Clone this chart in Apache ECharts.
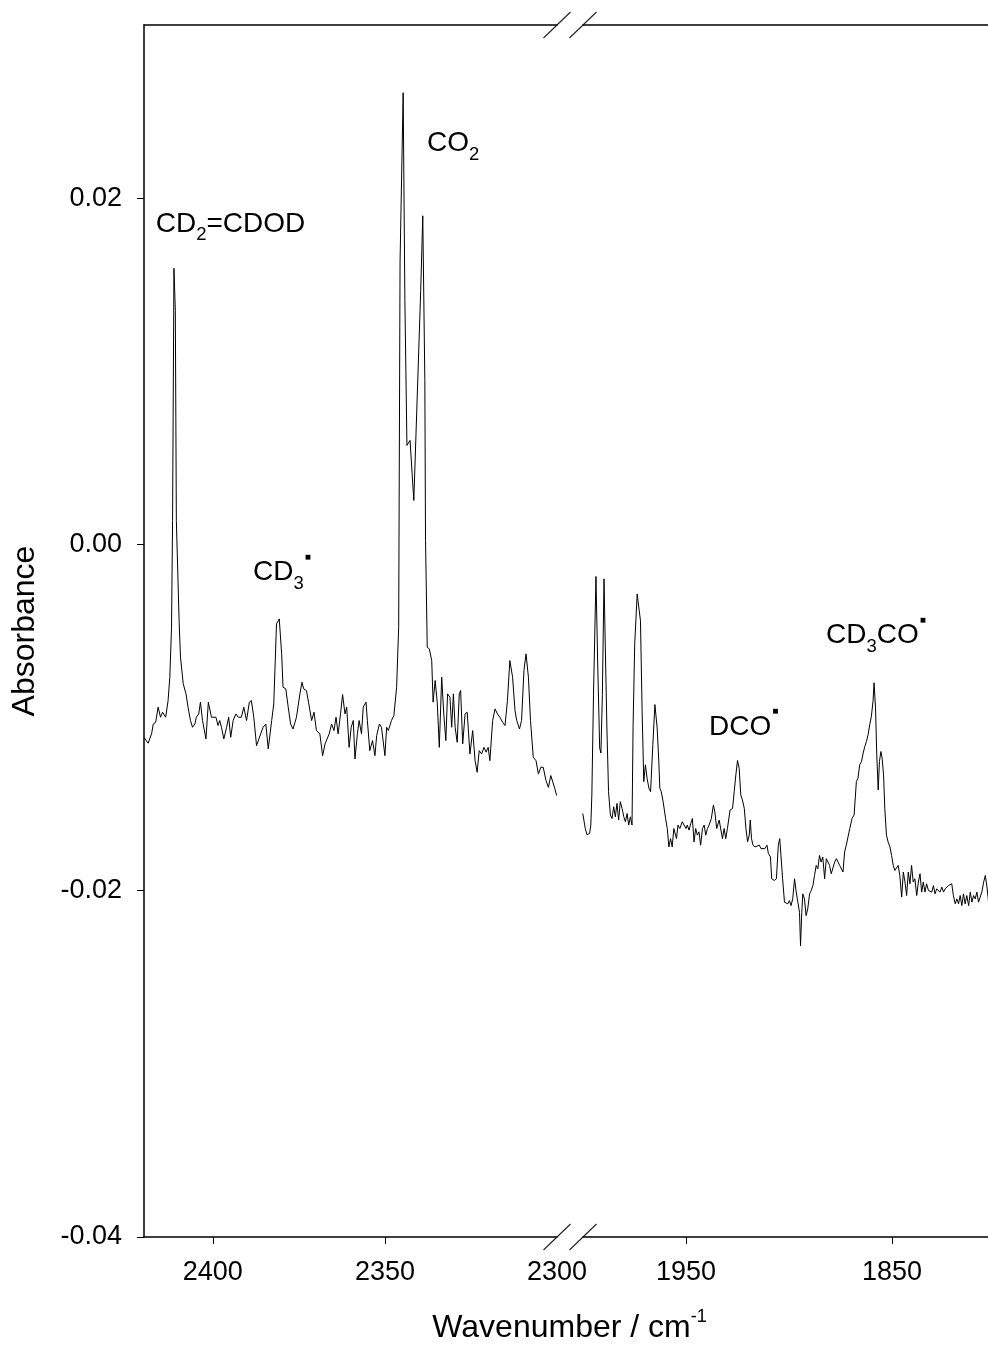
<!DOCTYPE html>
<html>
<head>
<meta charset="utf-8">
<script src="https://cdn.jsdelivr.net/npm/echarts@6/dist/echarts.min.js"></script>
<style>
  html, body { margin: 0; padding: 0; background: #fff; }
  #chart { width: 988px; height: 1345px; }
</style>
</head>
<body>
<div id="chart"></div>
<script>
// IR difference spectrum, two wavenumber windows joined by an axis break.

// High-wavenumber window (cm-1) and absorbance
const wavenumberHigh = [
  2420.0, 2418.8, 2417.8, 2417.3, 2416.6, 2415.9, 2415.2, 2414.6, 2413.7, 2413.0,
  2412.5, 2412.0, 2411.7, 2411.3, 2410.9, 2410.6, 2409.8, 2409.4, 2408.6, 2407.8,
  2407.2, 2406.5, 2405.9, 2405.2, 2404.8, 2404.1, 2403.6, 2403.0, 2402.0, 2401.3,
  2400.4, 2399.9, 2399.1, 2398.5, 2398.0, 2397.5, 2396.8, 2396.0, 2395.4, 2394.8,
  2394.1, 2393.3, 2392.6, 2391.7, 2391.0, 2390.2, 2389.4, 2388.8, 2388.1, 2387.3,
  2386.1, 2385.4, 2384.6, 2383.9, 2382.9, 2382.3, 2381.5, 2380.7, 2380.0, 2379.6,
  2378.8, 2378.1, 2377.4, 2376.7, 2375.7, 2374.7, 2374.1, 2373.6, 2372.8, 2372.2,
  2371.3, 2370.6, 2369.9, 2368.9, 2368.1, 2367.4, 2366.9, 2366.2, 2365.5, 2364.8,
  2364.2, 2363.6, 2362.9, 2362.3, 2361.6, 2361.1, 2360.4, 2359.8, 2359.2, 2358.7,
  2358.0, 2357.5, 2356.8, 2356.3, 2355.5, 2355.1, 2354.4, 2353.6, 2352.9, 2352.4,
  2351.6, 2351.0, 2350.0, 2349.5, 2349.0, 2348.1, 2347.4, 2346.6, 2346.0, 2345.6,
  2344.7, 2344.2, 2343.6, 2342.7, 2341.6, 2339.6, 2339.0, 2338.4, 2338.2, 2337.7,
  2337.1, 2336.4, 2336.0, 2335.4, 2334.8, 2334.2, 2333.5, 2332.9, 2332.3, 2331.8,
  2331.1, 2330.6, 2330.1, 2329.6, 2329.0, 2328.4, 2328.0, 2327.4, 2326.7, 2326.1,
  2325.3, 2324.5, 2323.8, 2323.2, 2322.6, 2321.9, 2321.2, 2320.6, 2320.0, 2319.5,
  2318.7, 2318.0, 2317.3, 2316.6, 2315.8, 2315.1, 2314.4, 2313.7, 2312.9, 2312.2,
  2311.7, 2310.9, 2310.3, 2309.6, 2309.0, 2308.3, 2307.7, 2306.9, 2306.1, 2305.4,
  2304.7, 2304.0, 2303.2, 2302.5, 2301.8, 2301.3, 2300.6, 2300.1
];
const absorbanceHigh = [
  -0.01114, -0.01148, -0.01094, -0.01037, -0.01027, -0.00940, -0.00998, -0.00969, -0.00998, -0.00902,
  -0.00767, -0.00478, 0.00139, 0.01595, 0.01353, 0.00139, -0.00439, -0.00651, -0.00805, -0.00863,
  -0.00940, -0.01017, -0.01056, -0.01037, -0.00998, -0.00979, -0.00911, -0.01017, -0.01123, -0.00911,
  -0.00998, -0.00988, -0.00998, -0.01046, -0.01017, -0.01056, -0.01123, -0.01056, -0.00998, -0.01114,
  -0.01017, -0.00979, -0.00998, -0.00998, -0.00940, -0.01017, -0.00911, -0.00902, -0.00998, -0.01162,
  -0.01094, -0.01056, -0.01037, -0.01181, -0.01017, -0.00921, -0.00459, -0.00430, -0.00632, -0.00825,
  -0.00834, -0.00940, -0.01037, -0.01066, -0.00998, -0.00863, -0.00796, -0.00834, -0.00844, -0.00911,
  -0.01017, -0.00969, -0.01075, -0.01094, -0.01220, -0.01152, -0.01143, -0.01094, -0.01037, -0.01075,
  -0.00998, -0.01094, -0.00979, -0.00867, -0.00979, -0.00940, -0.01172, -0.01056, -0.01017, -0.01239,
  -0.01094, -0.01017, -0.01094, -0.00940, -0.00911, -0.01017, -0.01191, -0.01133, -0.01220, -0.01104,
  -0.01037, -0.01056, -0.01220, -0.01056, -0.01075, -0.01017, -0.00988, -0.00825, -0.00478, 0.01632,
  0.02609, 0.01410, 0.00572, 0.00601, 0.00254, 0.01468, 0.01898, 0.00948, 0.00023, -0.00594,
  -0.00603, -0.00671, -0.00911, -0.00786, -0.00911, -0.01172, -0.00767, -0.00979, -0.01133, -0.00863,
  -0.00883, -0.01056, -0.00863, -0.01056, -0.01143, -0.00863, -0.00844, -0.01152, -0.00979, -0.00969,
  -0.01210, -0.01075, -0.01249, -0.01316, -0.01191, -0.01210, -0.01172, -0.01200, -0.01172, -0.01249,
  -0.01017, -0.00950, -0.00979, -0.00998, -0.01027, -0.01046, -0.00902, -0.00671, -0.00767, -0.00960,
  -0.01017, -0.01066, -0.01017, -0.00728, -0.00632, -0.00767, -0.01017, -0.01229, -0.01249, -0.01326,
  -0.01287, -0.01287, -0.01364, -0.01403, -0.01335, -0.01326, -0.01412, -0.01451
];

// Low-wavenumber window (cm-1) and absorbance
const wavenumberLow = [
  2000.1, 1998.9, 1998.1, 1996.8, 1996.2, 1995.7, 1994.9, 1993.7, 1992.9, 1991.9,
  1991.3, 1990.6, 1989.8, 1989.2, 1988.4, 1987.6, 1986.7, 1985.9, 1985.1, 1984.3,
  1983.5, 1982.7, 1981.9, 1981.0, 1980.2, 1979.4, 1978.6, 1977.8, 1977.0, 1976.2,
  1975.7, 1974.9, 1973.7, 1973.1, 1972.1, 1971.3, 1970.5, 1969.7, 1968.9, 1968.0,
  1967.2, 1966.1, 1965.1, 1964.0, 1963.2, 1962.7, 1962.0, 1961.1, 1959.9, 1959.1,
  1958.3, 1957.5, 1956.7, 1955.9, 1954.6, 1953.9, 1953.0, 1951.8, 1951.0, 1950.0,
  1949.4, 1948.5, 1947.7, 1946.9, 1946.1, 1945.3, 1944.5, 1943.7, 1942.9, 1942.0,
  1941.2, 1940.4, 1939.6, 1938.8, 1937.7, 1936.7, 1936.0, 1935.1, 1933.9, 1933.1,
  1932.3, 1931.5, 1930.7, 1929.9, 1928.6, 1927.4, 1926.6, 1925.8, 1925.0, 1924.2,
  1923.4, 1922.6, 1921.7, 1920.9, 1920.1, 1919.3, 1918.8, 1918.2, 1917.5, 1916.5,
  1915.6, 1914.4, 1913.6, 1912.8, 1911.7, 1910.7, 1910.0, 1909.0, 1908.4, 1907.1,
  1906.1, 1905.2, 1904.5, 1903.9, 1903.1, 1902.2, 1901.4, 1900.6, 1899.8, 1899.0,
  1898.2, 1897.3, 1896.5, 1895.7, 1894.9, 1894.4, 1893.8, 1893.3, 1892.5, 1891.7,
  1890.9, 1890.0, 1889.2, 1888.4, 1887.6, 1886.8, 1886.0, 1885.2, 1884.4, 1883.6,
  1882.7, 1881.9, 1881.1, 1880.3, 1879.5, 1878.7, 1877.8, 1877.0, 1876.2, 1875.4,
  1874.6, 1873.8, 1873.0, 1872.2, 1871.3, 1870.5, 1869.4, 1868.4, 1867.3, 1866.5,
  1865.7, 1864.8, 1864.0, 1863.2, 1862.4, 1861.6, 1860.8, 1860.0, 1859.2, 1858.7,
  1858.0, 1857.4, 1856.7, 1856.1, 1855.4, 1854.8, 1854.1, 1853.5, 1852.7, 1851.9,
  1851.0, 1850.2, 1849.4, 1848.6, 1847.8, 1847.0, 1846.2, 1845.3, 1844.5, 1843.7,
  1842.9, 1842.1, 1841.3, 1840.5, 1839.7, 1838.9, 1838.0, 1837.2, 1836.4, 1835.6,
  1834.8, 1834.0, 1833.2, 1832.3, 1831.5, 1830.7, 1829.9, 1829.1, 1828.3, 1827.5,
  1826.7, 1825.8, 1825.0, 1824.2, 1823.4, 1822.6, 1821.8, 1821.0, 1820.2, 1819.3,
  1818.5, 1817.7, 1816.9, 1816.1, 1815.3, 1814.5, 1813.7, 1812.8, 1812.0, 1811.2,
  1810.4, 1809.6, 1808.8, 1808.0, 1807.2, 1806.4, 1805.5, 1804.7, 1803.9, 1803.1
];
const absorbanceLow = [
  -0.01554, -0.01641, -0.01676, -0.01670, -0.01621, -0.01447, -0.00867, -0.00185, -0.00673, -0.01176,
  -0.01205, -0.00867, -0.00199, -0.00576, -0.01060, -0.01428, -0.01563, -0.01583, -0.01515, -0.01573,
  -0.01496, -0.01592, -0.01486, -0.01525, -0.01573, -0.01602, -0.01554, -0.01621, -0.01573, -0.01621,
  -0.01060, -0.00576, -0.00286, -0.00282, -0.00441, -0.00963, -0.01370, -0.01273, -0.01350, -0.01408,
  -0.01428, -0.01157, -0.00925, -0.01060, -0.01254, -0.01408, -0.01428, -0.01486, -0.01583, -0.01641,
  -0.01747, -0.01699, -0.01747, -0.01641, -0.01699, -0.01621, -0.01641, -0.01602, -0.01592, -0.01641,
  -0.01621, -0.01650, -0.01612, -0.01583, -0.01718, -0.01641, -0.01679, -0.01660, -0.01737, -0.01641,
  -0.01621, -0.01679, -0.01641, -0.01621, -0.01583, -0.01505, -0.01544, -0.01641, -0.01592, -0.01583,
  -0.01699, -0.01641, -0.01699, -0.01641, -0.01534, -0.01525, -0.01428, -0.01331, -0.01248, -0.01292,
  -0.01447, -0.01476, -0.01525, -0.01641, -0.01718, -0.01679, -0.01592, -0.01699, -0.01737, -0.01747,
  -0.01747, -0.01737, -0.01757, -0.01747, -0.01757, -0.01737, -0.01786, -0.01805, -0.01931, -0.01941,
  -0.01931, -0.01737, -0.01699, -0.01796, -0.01931, -0.02066, -0.02066, -0.02076, -0.02057, -0.02086,
  -0.02047, -0.01931, -0.02008, -0.02066, -0.02125, -0.02318, -0.02125, -0.02018, -0.02047, -0.02144,
  -0.02105, -0.02018, -0.01999, -0.01970, -0.01912, -0.01854, -0.01873, -0.01796, -0.01834, -0.01805,
  -0.01931, -0.01815, -0.01834, -0.01854, -0.01902, -0.01912, -0.01834, -0.01815, -0.01834, -0.01854,
  -0.01844, -0.01892, -0.01776, -0.01737, -0.01728, -0.01641, -0.01583, -0.01563, -0.01370, -0.01350,
  -0.01273, -0.01254, -0.01205, -0.01167, -0.01138, -0.01099, -0.01041, -0.00992, -0.00905, -0.00799,
  -0.00944, -0.01215, -0.01418, -0.01254, -0.01196, -0.01234, -0.01331, -0.01525, -0.01679, -0.01718,
  -0.01747, -0.01796, -0.01854, -0.01883, -0.01873, -0.01854, -0.01912, -0.02037, -0.01892, -0.01950,
  -0.02028, -0.01892, -0.01960, -0.01854, -0.01950, -0.01931, -0.02028, -0.01950, -0.01902, -0.02008,
  -0.01950, -0.02008, -0.01960, -0.01999, -0.01989, -0.02008, -0.01970, -0.02018, -0.01989, -0.01979,
  -0.02008, -0.01979, -0.02008, -0.01989, -0.01979, -0.01970, -0.01979, -0.01960, -0.02028, -0.02076,
  -0.02047, -0.02076, -0.02028, -0.02086, -0.02018, -0.02076, -0.02028, -0.02086, -0.02008, -0.02066,
  -0.02028, -0.02047, -0.02008, -0.02066, -0.02037, -0.02008, -0.01950, -0.01912, -0.01979, -0.02066
];

// Axis ticks
const yTickValues = [-0.04, -0.02, 0.00, 0.02];
const xTickLabelsHigh = [2400, 2350, 2300];
const xTickMarksHigh = [2400, 2350];
const xTickLabelsLow = [1950, 1850];

// Band assignments: rich-text label, anchor (left edge, text centre) and window
const bandLabels = [
  '{m|CD}{s|2}{m|=CDOD}',
  '{m|CO}{s|2}',
  '{m|CD}{s|3}{d|■}',
  '{m|DCO}{d|■}',
  '{m|CD}{s|3}{m|CO}{d|■}'
];
const bandLabelWavenumber = [2416.6, 2337.8, 2388.3, 1938.8, 1882.0];
const bandLabelAbsorbance = [0.0185, 0.02315, -0.00162, -0.01055, -0.00526];
const bandLabelWindow = [0, 0, 0, 1, 1];

const FONT = "'Liberation Sans', Arial, Helvetica, sans-serif";

const pairs = (xs, ys) => xs.map((x, i) => [x, ys[i]]);

function bandSeries(win) {
  const data = [];
  bandLabels.forEach((t, i) => {
    if (bandLabelWindow[i] === win) {
      data.push({ value: [bandLabelWavenumber[i], bandLabelAbsorbance[i]], label: { formatter: t } });
    }
  });
  return {
    type: 'scatter',
    xAxisIndex: win, yAxisIndex: win,
    symbol: 'rect',
    symbolSize: 0,
    itemStyle: { color: '#000', opacity: 1 },
    silent: true,
    z: 5,
    label: {
      show: true,
      position: 'right',
      distance: 0,
      color: '#000',
      opacity: 1,
      textBorderWidth: 0,
      rich: {
        m: { fontFamily: FONT, fontSize: 28, lineHeight: 41, color: '#000', verticalAlign: 'middle' },
        s: { fontFamily: FONT, fontSize: 18.5, lineHeight: 18, color: '#000', verticalAlign: 'bottom' },
        d: { fontFamily: FONT, fontSize: 10, lineHeight: 40, color: '#000', verticalAlign: 'top', padding: [0, 0, 0, 1] }
      }
    },
    data
  };
}

const axisLineStyle = { color: '#000', width: 1.5 };
const tickLabelStyle = { fontFamily: FONT, fontSize: 27, color: '#000' };

const bottomX = (gridIndex, min, max, labels, ticks) => ({
  type: 'value', gridIndex, position: 'bottom', inverse: true,
  min, max, interval: 50,
  axisLine: { show: true, onZero: false, lineStyle: axisLineStyle },
  axisTick: { show: true, inside: false, length: 7, customValues: ticks, lineStyle: { color: '#000', width: 1 } },
  axisLabel: { show: true, margin: 22, customValues: labels, formatter: v => String(v), ...tickLabelStyle },
  splitLine: { show: false }
});
const topX = (gridIndex, min, max) => ({
  type: 'value', gridIndex, position: 'top', inverse: true, min, max,
  axisLine: { show: true, onZero: false, lineStyle: axisLineStyle },
  axisTick: { show: false }, axisLabel: { show: false }, splitLine: { show: false }
});

const chart = echarts.init(document.getElementById('chart'), null, { renderer: 'canvas' });

chart.setOption({
  animation: false,
  backgroundColor: '#fff',
  grid: [
    { left: 144, top: 25, width: 413, height: 1212, outerBoundsMode: 'none' },
    { left: 583, top: 25, width: 412, height: 1212, outerBoundsMode: 'none' }
  ],
  xAxis: [
    bottomX(0, 2300, 2420, xTickLabelsHigh, xTickMarksHigh),
    bottomX(1, 1800, 2000, xTickLabelsLow, xTickLabelsLow),
    topX(0, 2300, 2420),
    topX(1, 1800, 2000)
  ],
  yAxis: [
    {
      type: 'value', gridIndex: 0, min: -0.04, max: 0.03, interval: 0.02,
      axisLine: { show: true, onZero: false, lineStyle: axisLineStyle },
      axisTick: { show: true, length: 7, customValues: yTickValues, lineStyle: { color: '#000', width: 1 } },
      axisLabel: { margin: 22, customValues: yTickValues, formatter: v => v.toFixed(2), ...tickLabelStyle },
      splitLine: { show: false }
    },
    { type: 'value', gridIndex: 1, min: -0.04, max: 0.03, interval: 0.02, show: false }
  ],
  series: [
    {
      type: 'line', xAxisIndex: 0, yAxisIndex: 0, data: pairs(wavenumberHigh, absorbanceHigh),
      showSymbol: false, symbol: 'none', silent: true,
      lineStyle: { color: '#000', width: 1 }
    },
    {
      type: 'line', xAxisIndex: 1, yAxisIndex: 1, data: pairs(wavenumberLow, absorbanceLow),
      showSymbol: false, symbol: 'none', silent: true,
      lineStyle: { color: '#000', width: 1 }
    },
    bandSeries(0),
    bandSeries(1)
  ]
});

// Axis break marks and axis titles, placed from the axes' own pixel mapping
const breakLeft = chart.convertToPixel({ xAxisIndex: 0 }, 2300);
const breakRight = chart.convertToPixel({ xAxisIndex: 1 }, 2000);
const plotLeft = chart.convertToPixel({ xAxisIndex: 0 }, 2420);
const plotRight = chart.convertToPixel({ xAxisIndex: 1 }, 1800);
const plotTop = chart.convertToPixel({ yAxisIndex: 0 }, 0.03);
const plotBottom = chart.convertToPixel({ yAxisIndex: 0 }, -0.04);

const slash = (cx, cy) => ({
  type: 'line', silent: true,
  shape: { x1: cx - 13.5, y1: cy + 13, x2: cx + 13.5, y2: cy - 13 },
  style: { stroke: '#222', lineWidth: 1.1 }
});

chart.setOption({
  graphic: [
    slash(breakLeft, plotTop), slash(breakRight, plotTop),
    slash(breakLeft, plotBottom), slash(breakRight, plotBottom),
    {
      type: 'text', silent: true,
      x: (plotLeft + plotRight) / 2, y: 1328,
      style: {
        text: '{m|Wavenumber / cm}{p|-1}',
        align: 'center', verticalAlign: 'middle',
        rich: {
          m: { fontFamily: FONT, fontSize: 32, lineHeight: 40, fill: '#000', verticalAlign: 'middle' },
          p: { fontFamily: FONT, fontSize: 18, lineHeight: 27, fill: '#000', verticalAlign: 'top' }
        }
      }
    },
    {
      type: 'text', silent: true,
      x: 25, y: (plotTop + plotBottom) / 2, rotation: Math.PI / 2,
      style: {
        text: 'Absorbance', fontFamily: FONT, fontSize: 32, fill: '#000',
        align: 'center', verticalAlign: 'middle'
      }
    }
  ]
});
</script>
</body>
</html>
